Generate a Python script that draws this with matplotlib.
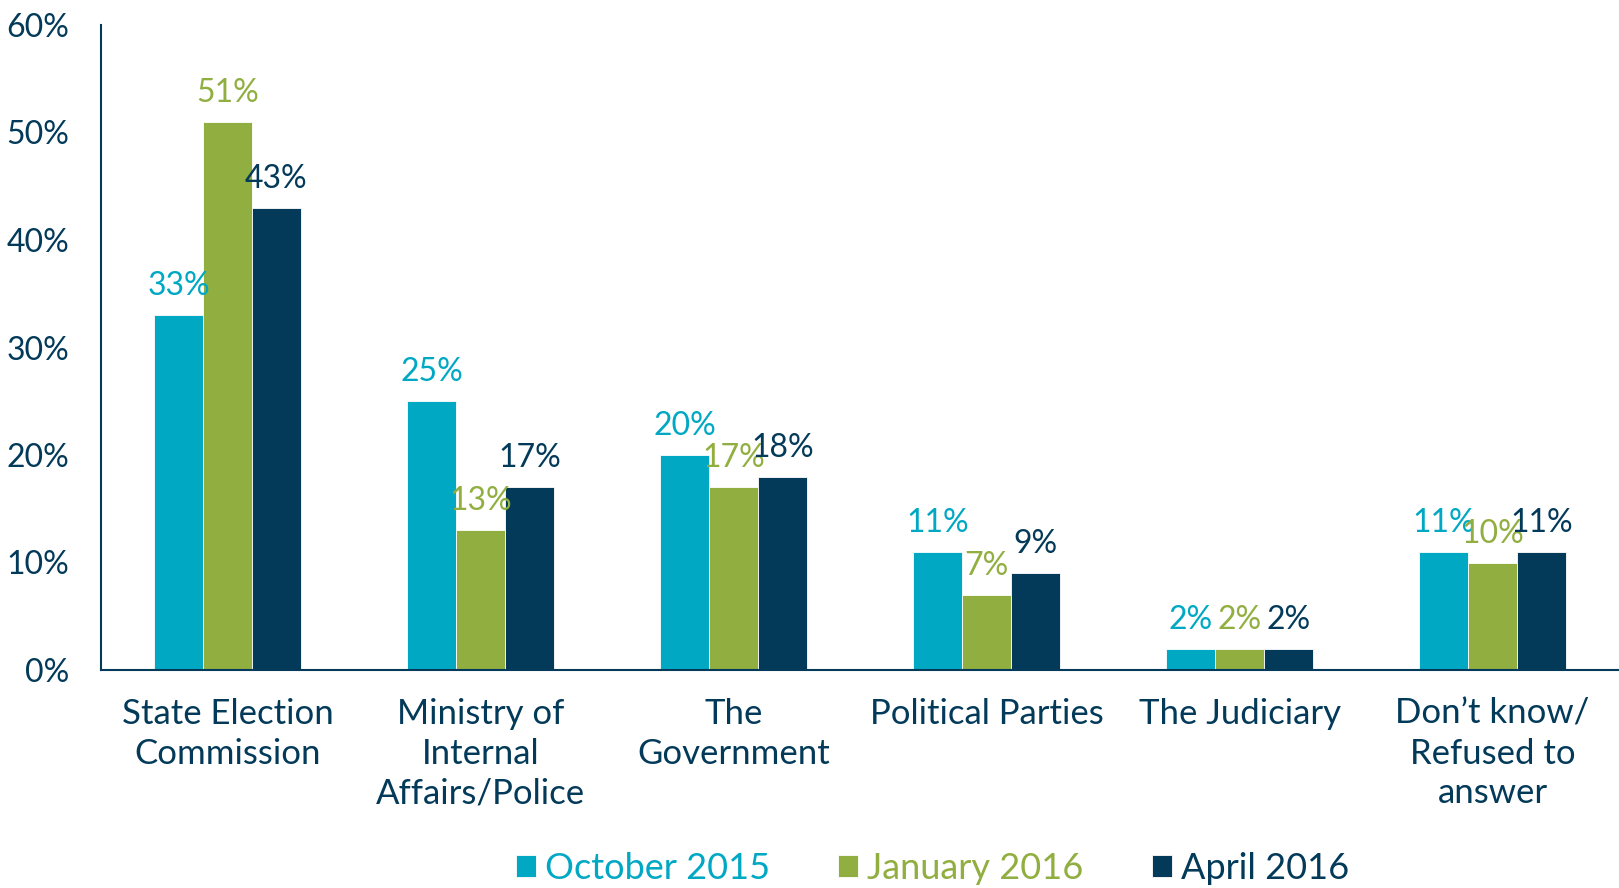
import matplotlib
matplotlib.use("Agg")
import matplotlib.pyplot as plt
import numpy as np

categories = ["State Election\nCommission", "Ministry of\nInternal\nAffairs/Police",
              "The\nGovernment", "Political Parties", "The Judiciary",
              "Don\u2019t know/\nRefused to\nanswer"]
series_names = ["October 2015", "January 2016", "April 2016"]
oct_2015 = [33, 25, 20, 11, 2, 11]
jan_2016 = [51, 13, 17, 7, 2, 10]
apr_2016 = [43, 17, 18, 9, 2, 11]
yticks = [0, 10, 20, 30, 40, 50, 60]

colors = ["#00A8C4", "#91AE40", "#033A59"]
navy = "#033A59"

plt.rcParams['font.family'] = ['Lato', 'DejaVu Sans']

fig = plt.figure(figsize=(16.19, 8.88), dpi=100)
ax = fig.add_axes([101/1619, 218/888, (1619-101)/1619, 645/888])

x = np.arange(len(categories))
w = 0.193
handles = []
for i, (vals, c, name) in enumerate(zip([oct_2015, jan_2016, apr_2016], colors, series_names)):
    bars = ax.bar(x + (i - 1) * w, vals, w, color=c, edgecolor="white", linewidth=0.6, label=name)
    ax.bar_label(bars, labels=[f"{v}%" for v in vals], padding=10, color=c, fontsize=23)
    handles.append(bars)

ax.set_xlim(-0.5, len(categories) - 0.5)
ax.set_ylim(0, 60)
ax.set_yticks(yticks)
ax.set_yticklabels([f"{t}%" for t in yticks], fontsize=23)
ax.set_xticks(x)
ax.set_xticklabels(categories, linespacing=1.30, fontsize=25)
ax.tick_params(axis='both', length=0, colors=navy)
ax.tick_params(axis='y', pad=23)
ax.tick_params(axis='x', pad=20)
for s in ["top", "right"]:
    ax.spines[s].set_visible(False)
for s in ["left", "bottom"]:
    ax.spines[s].set_color(navy)
    ax.spines[s].set_linewidth(1.5)

leg = fig.legend(handles=handles, labels=series_names, loc="center",
                 bbox_to_anchor=(0.576, 0.022), ncol=3, frameon=False,
                 fontsize=26, handlelength=0.55, handleheight=0.55,
                 handletextpad=0.25, columnspacing=1.9, labelcolor=colors)

fig.savefig("out.png", dpi=100)
